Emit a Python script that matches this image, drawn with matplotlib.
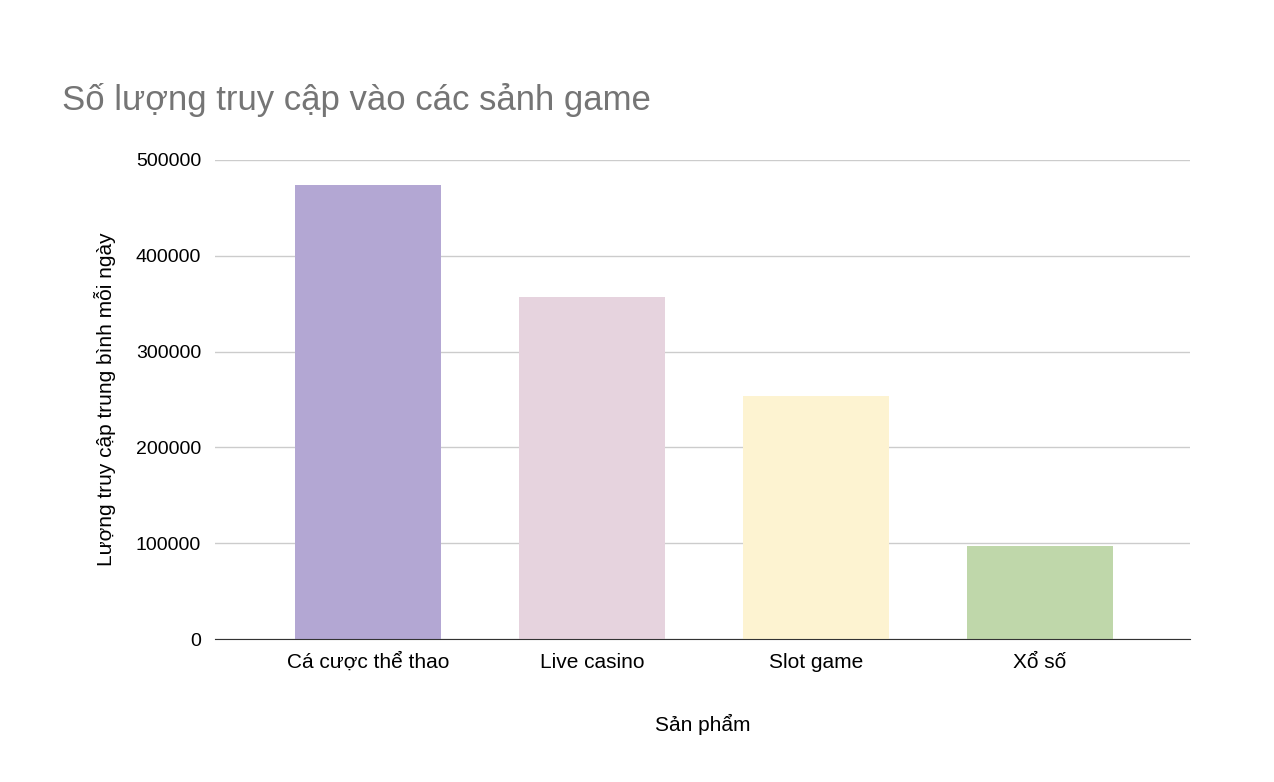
import matplotlib
matplotlib.use('Agg')
import matplotlib.pyplot as plt

categories = ['Cá cược thể thao', 'Live casino', 'Slot game', 'Xổ số']
values = [474000, 357000, 254000, 97000]
colors = ['#b3a7d3', '#e6d3de', '#fdf3d1', '#bfd7aa']
yticks = [0, 100000, 200000, 300000, 400000, 500000]

plt.rcParams['font.family'] = ['Liberation Sans', 'DejaVu Sans']

fig = plt.figure(figsize=(12.74, 7.82), dpi=100)
ax = fig.add_axes([215/1274, 1-639/782, 975/1274, 479/782])

x = range(len(categories))
ax.bar(x, values, width=0.652, color=colors, zorder=3)
ax.set_xlim(-0.683, 3.67)
ax.set_ylim(0, 500000)
ax.set_yticks(yticks)
ax.set_yticklabels([str(v) for v in yticks], fontsize=14)
ax.set_xticks(list(x))
ax.set_xticklabels(categories, fontsize=15)
ax.tick_params(length=0, pad=10)
ax.grid(axis='y', color='#cccccc', linewidth=1, zorder=0)
for s in ['top', 'right', 'left']:
    ax.spines[s].set_visible(False)
ax.spines['bottom'].set_color('#333333')
ax.spines['bottom'].set_zorder(4)

ax.set_xlabel('Sản phẩm', fontsize=15, labelpad=30)
ax.set_ylabel('Lượng truy cập trung bình mỗi ngày', fontsize=15, labelpad=14)
fig.text(62/1274, 1-100/782, 'Số lượng truy cập vào các sảnh game',
         fontsize=25, color='#757575', va='center', ha='left')

fig.savefig('out.png', dpi=100)
